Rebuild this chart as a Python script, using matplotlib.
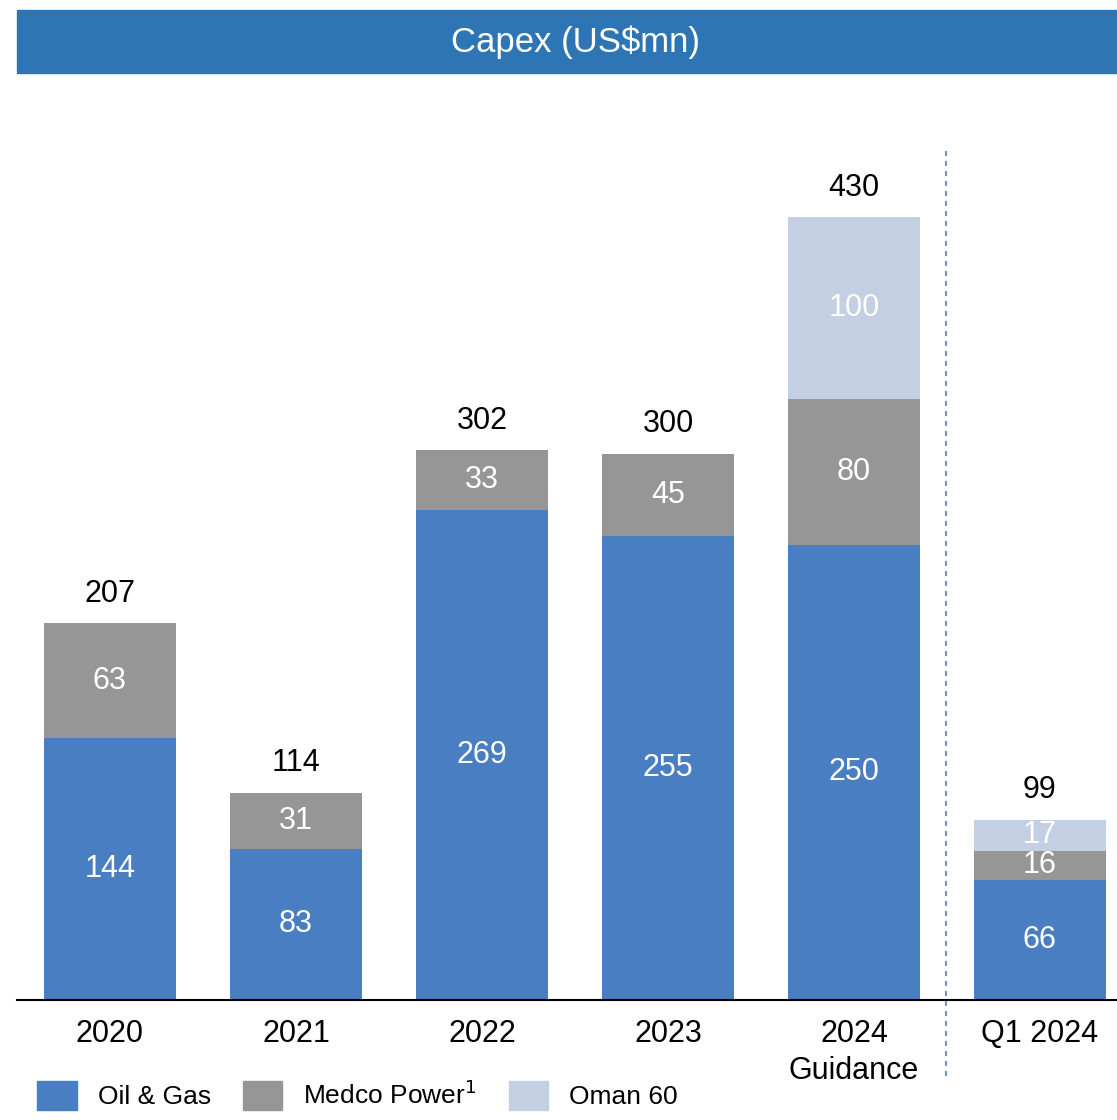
import matplotlib.pyplot as plt
from matplotlib.patches import Rectangle, Patch
from matplotlib import font_manager as fm

names = {f.name for f in fm.fontManager.ttflist}
fam = 'Liberation Sans Narrow' if 'Liberation Sans Narrow' in names else 'Liberation Sans'
plt.rcParams['font.family'] = [fam, 'DejaVu Sans']

categories = ["2020", "2021", "2022", "2023", "2024\nGuidance", "Q1 2024"]
oil_gas = [144, 83, 269, 255, 250, 66]
medco = [63, 31, 33, 45, 80, 16]
oman = [0, 0, 0, 0, 100, 17]
totals = [207, 114, 302, 300, 430, 99]

c_oil = "#4A7EC2"
c_medco = "#969696"
c_oman = "#C3CFE2"

fig = plt.figure(figsize=(11.17, 11.2), dpi=100)
ax = fig.add_axes([17/1117, 1-1000/1120, 1-17/1117, 850/1120])

x = list(range(len(categories)))
w = 0.715
ax.bar(x, oil_gas, w, color=c_oil)
ax.bar(x, medco, w, bottom=oil_gas, color=c_medco)
bot3 = [a + b for a, b in zip(oil_gas, medco)]
ax.bar(x, oman, w, bottom=bot3, color=c_oman)

for i in x:
    ax.text(i, oil_gas[i] / 2, str(oil_gas[i]), ha='center', va='center', color='white', fontsize=22)
    ax.text(i, oil_gas[i] + medco[i] / 2, str(medco[i]), ha='center', va='center', color='white', fontsize=22)
    if oman[i]:
        ax.text(i, bot3[i] + oman[i] / 2, str(oman[i]), ha='center', va='center', color='white', fontsize=22)
    ax.text(i, totals[i] + 8, str(totals[i]), ha='center', va='bottom', color='black', fontsize=22)

ax.set_xlim(-0.5, 5.414)
ax.set_ylim(0, 467)
ax.set_xticks(x)
ax.set_xticklabels(categories, fontsize=22, linespacing=1.3)
ax.tick_params(axis='x', length=0, pad=14)
ax.set_yticks([])
for s in ['top', 'right', 'left']:
    ax.spines[s].set_visible(False)
ax.spines['bottom'].set_linewidth(1.5)

# separador entre anos e trimestre
ax.plot([4.495, 4.495], [-42, 468], '--', color="#4A7EC2", lw=1.2, clip_on=False, dashes=(3, 3))

# faixa do titulo
fig.patches.append(Rectangle((17/1117, 1-73/1120), 1, 63/1120, transform=fig.transFigure,
                             color="#2E75B6", zorder=0))
fig.text(0.515, 1-42/1120, "Capex (US$mn)", ha='center', va='center', color='white', fontsize=25)

handles = [Patch(color=c_oil, label="Oil & Gas"),
           Patch(color=c_medco, label="Medco Power$^1$"),
           Patch(color=c_oman, label="Oman 60")]
fig.legend(handles=handles, loc='lower left', bbox_to_anchor=(0.012, -0.012), ncol=3, frameon=False,
           fontsize=19, handlelength=1.5, handleheight=1.3, handletextpad=0.8, columnspacing=1.2)

fig.savefig("out.png", dpi=100)
